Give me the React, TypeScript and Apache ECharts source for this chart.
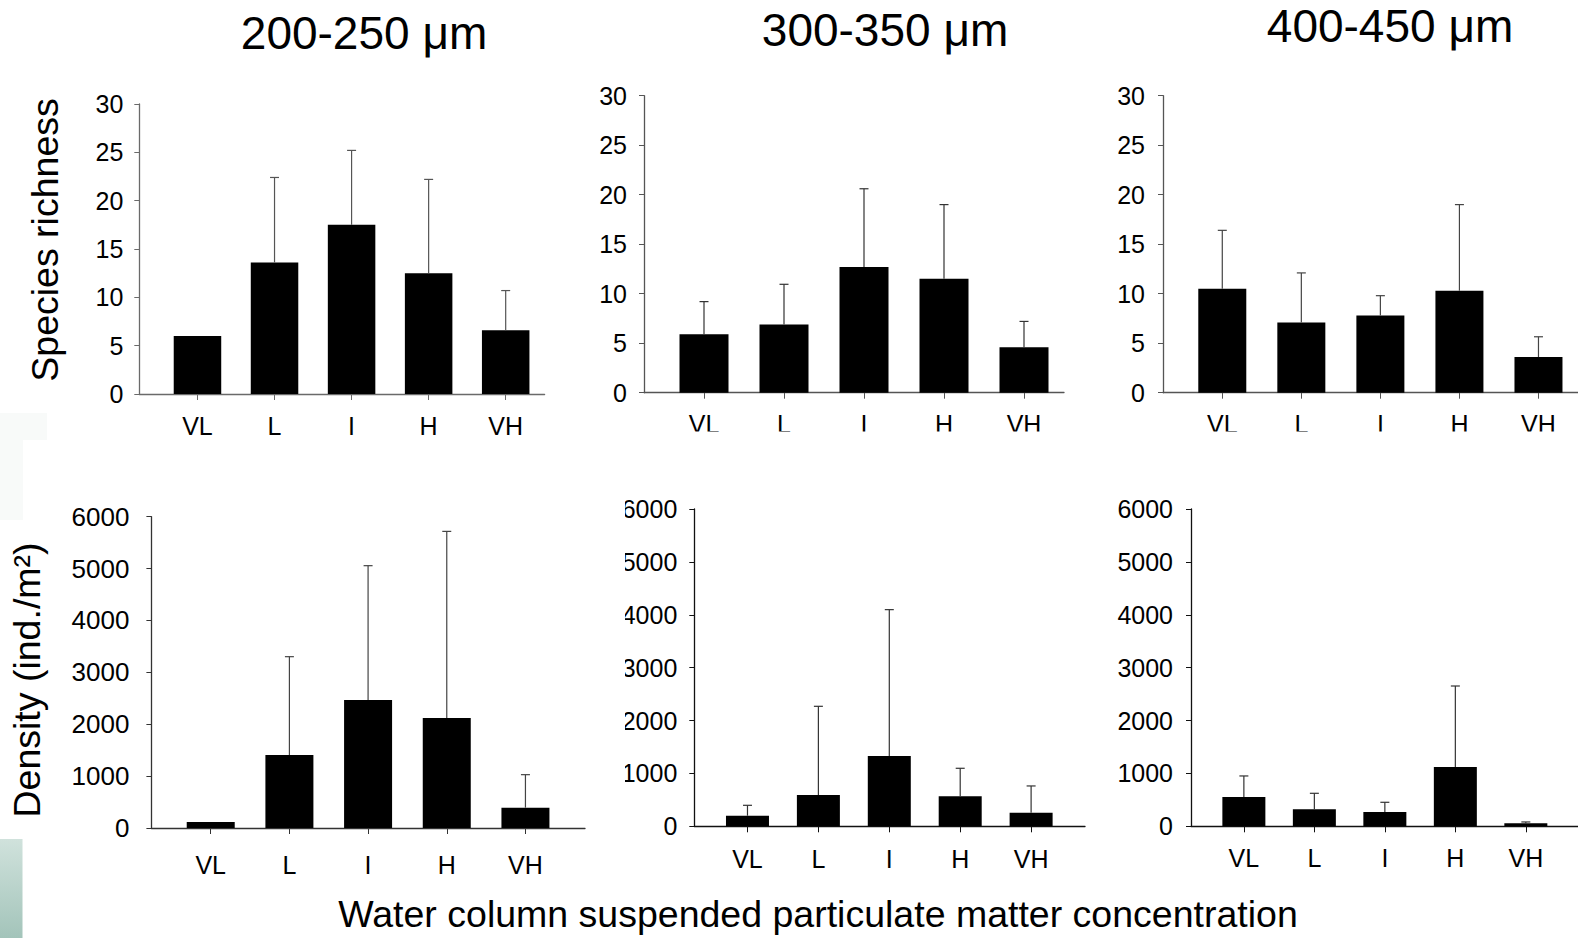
import React, { useEffect, useRef } from "react";
import * as echarts from "echarts";

const categories = ["VL", "L", "I", "H", "VH"];

const richness200 = [6.0, 13.6, 17.5, 12.5, 6.6];
const richness200Sd = [0, 8.8, 7.7, 9.7, 4.1];
const richness300 = [5.9, 6.9, 12.7, 11.5, 4.6];
const richness300Sd = [3.3, 4.05, 7.9, 7.5, 2.6];
const richness400 = [10.5, 7.1, 7.8, 10.3, 3.6];
const richness400Sd = [5.9, 5.0, 2.0, 8.7, 2.05];

const density200 = [116, 1407, 2467, 2120, 392];
const density200Sd = [0, 1895, 2589, 3597, 636];
const density300 = [200, 590, 1330, 567, 258];
const density300Sd = [197, 1679, 2767, 530, 505];
const density400 = [555, 321, 271, 1122, 57];
const density400Sd = [397, 303, 183, 1531, 25];

const richnessTicks = { min: 0, max: 30, interval: 5 };
const densityTicks = { min: 0, max: 6000, interval: 1000 };

const titles = ["200-250 μm", "300-350 μm", "400-450 μm"];
const yNameTop = "Species richness";
const yNameBottom = "Density (ind./m²)";
const xNameBottom = "Water column suspended particulate matter concentration";

const FONT = "'Liberation Sans', Arial, Helvetica, sans-serif";

type Panel = {
  mean: number[];
  sd: number[];
  ticks: { min: number; max: number; interval: number };
  grid: { left: number; top: number; width: number; height: number };
  xMin: number;
  xMax: number;
  barWidth: number;
  yMargin: number;
  xMargin: number;
  axisColor: string;
  errColor: string;
};

const panels: Panel[] = [
  { mean: richness200, sd: richness200Sd, ticks: richnessTicks, grid: { left: 139.3, top: 104, width: 405.3, height: 290 }, xMin: -0.755, xMax: 4.505, barWidth: 47.5, yMargin: 16, xMargin: 19, axisColor: "#6a6a6a", errColor: "#555" },
  { mean: richness300, sd: richness300Sd, ticks: richnessTicks, grid: { left: 644, top: 95.7, width: 420, height: 297 }, xMin: -0.75, xMax: 4.5, barWidth: 49, yMargin: 17, xMargin: 19, axisColor: "#555", errColor: "#333" },
  { mean: richness400, sd: richness400Sd, ticks: richnessTicks, grid: { left: 1163, top: 95.7, width: 418.7, height: 297 }, xMin: -0.75, xMax: 4.5, barWidth: 48, yMargin: 18, xMargin: 19, axisColor: "#555", errColor: "#444" },
  { mean: density200, sd: density200Sd, ticks: densityTicks, grid: { left: 151.4, top: 516.7, width: 433.6, height: 311.3 }, xMin: -0.754, xMax: 4.757, barWidth: 48, yMargin: 22, xMargin: 24, axisColor: "#333", errColor: "#444" },
  { mean: density300, sd: density300Sd, ticks: densityTicks, grid: { left: 694.3, top: 509, width: 390.7, height: 317.3 }, xMin: -0.75, xMax: 4.76, barWidth: 43, yMargin: 17, xMargin: 20, axisColor: "#111", errColor: "#333" },
  { mean: density400, sd: density400Sd, ticks: densityTicks, grid: { left: 1191, top: 509, width: 390, height: 317.3 }, xMin: -0.75, xMax: 4.74, barWidth: 43, yMargin: 18, xMargin: 19, axisColor: "#111", errColor: "#333" },
];

const tickIdx = categories.map((_, i) => i);

function buildOption() {
  const grid = panels.map((p) => ({ ...p.grid, containLabel: false }));
  const xAxis = panels.map((p, i) => ({
    type: "value",
    gridIndex: i,
    min: p.xMin,
    max: p.xMax,
    splitLine: { show: false },
    axisLine: { show: true, onZero: false, lineStyle: { color: p.axisColor, width: 1.3 } },
    axisTick: { show: true, customValues: tickIdx, length: 6, lineStyle: { color: p.axisColor } },
    axisLabel: {
      customValues: tickIdx,
      formatter: (v: number) => categories[Math.round(v)] ?? "",
      margin: p.xMargin,
      fontSize: 25,
      color: "#000",
      fontFamily: FONT,
    },
  }));
  const yAxis = panels.map((p, i) => ({
    type: "value",
    gridIndex: i,
    min: p.ticks.min,
    max: p.ticks.max,
    interval: p.ticks.interval,
    splitLine: { show: false },
    axisLine: { show: true, onZero: false, lineStyle: { color: p.axisColor, width: 1.3 } },
    axisTick: { show: true, length: 5, lineStyle: { color: p.axisColor } },
    axisLabel: {
      margin: p.yMargin,
      fontSize: i === 3 ? 26 : 25,
      color: "#000",
      fontFamily: FONT,
      formatter: (v: number) => String(v),
    },
  }));
  const series: any[] = [];
  panels.forEach((p, i) => {
    series.push({
      type: "bar",
      xAxisIndex: i,
      yAxisIndex: i,
      barWidth: p.barWidth,
      itemStyle: { color: "#000" },
      data: p.mean.map((m, k) => [k, m]),
      z: 2,
    });
    series.push({
      type: "custom",
      xAxisIndex: i,
      yAxisIndex: i,
      z: 3,
      encode: { x: 0, y: 1 },
      data: p.mean.map((m, k) => [k, m, p.sd[k]]),
      renderItem: (params: any, api: any) => {
        const x = api.value(0);
        const m = api.value(1);
        const s = api.value(2);
        if (!s) return { type: "group", children: [] };
        const a = api.coord([x, m]);
        const b = api.coord([x, m + s]);
        const st = { stroke: p.errColor, lineWidth: 1.2 };
        return {
          type: "group",
          children: [
            { type: "line", shape: { x1: a[0], y1: a[1], x2: b[0], y2: b[1] }, style: st },
            { type: "line", shape: { x1: b[0] - 4.5, y1: b[1], x2: b[0] + 4.5, y2: b[1] }, style: st },
          ],
        };
      },
    });
  });

  const textStyle = (text: string, size: number) => ({
    text,
    fontSize: size,
    fontFamily: FONT,
    fill: "#000",
    textAlign: "center",
    textVerticalAlign: "middle",
  });

  const graphic: any[] = [
    { type: "rect", z: -10, shape: { x: 0, y: 413, width: 47, height: 27 }, style: { fill: "#f8faf9" } },
    { type: "rect", z: -10, shape: { x: 0, y: 440, width: 23, height: 80 }, style: { fill: "#f8faf9" } },
    {
      type: "rect",
      z: -10,
      shape: { x: 0, y: 839, width: 22.5, height: 99 },
      style: {
        fill: new echarts.graphic.LinearGradient(0, 0, 0, 1, [
          { offset: 0, color: "#d0e2dc" },
          { offset: 1, color: "#a3c4ba" },
        ]),
      },
    },
    // clipping masks reproducing the cropped sub-panels of the original figure
    { type: "rect", z: 100, shape: { x: 590, y: 431.5, width: 990, height: 50 }, style: { fill: "#fff" } },
    { type: "rect", z: 100, shape: { x: 595, y: 490, width: 30, height: 355 }, style: { fill: "#fff" } },
    { type: "text", z: 50, x: 364, y: 33, style: textStyle(titles[0], 46) },
    { type: "text", z: 50, x: 885, y: 30, style: textStyle(titles[1], 46) },
    { type: "text", z: 50, x: 1390, y: 26, style: textStyle(titles[2], 46) },
    { type: "text", z: 50, x: 45, y: 240, rotation: Math.PI / 2, style: textStyle(yNameTop, 37.5) },
    { type: "text", z: 50, x: 27, y: 680, rotation: Math.PI / 2, style: textStyle(yNameBottom, 37.5) },
    { type: "text", z: 50, x: 818, y: 914, style: textStyle(xNameBottom, 37.5) },
  ];

  return {
    animation: false,
    backgroundColor: "#fff",
    grid,
    xAxis,
    yAxis,
    series,
    graphic,
  };
}

export default function App() {
  const ref = useRef<HTMLDivElement>(null);
  useEffect(() => {
    if (!ref.current) return;
    const chart = echarts.init(ref.current, null, { renderer: "svg" });
    chart.setOption(buildOption() as any);
    return () => chart.dispose();
  }, []);
  return (
    <div
      ref={ref}
      style={{ position: "fixed", left: 0, top: 0, width: 1578, height: 938, background: "#fff" }}
    />
  );
}
